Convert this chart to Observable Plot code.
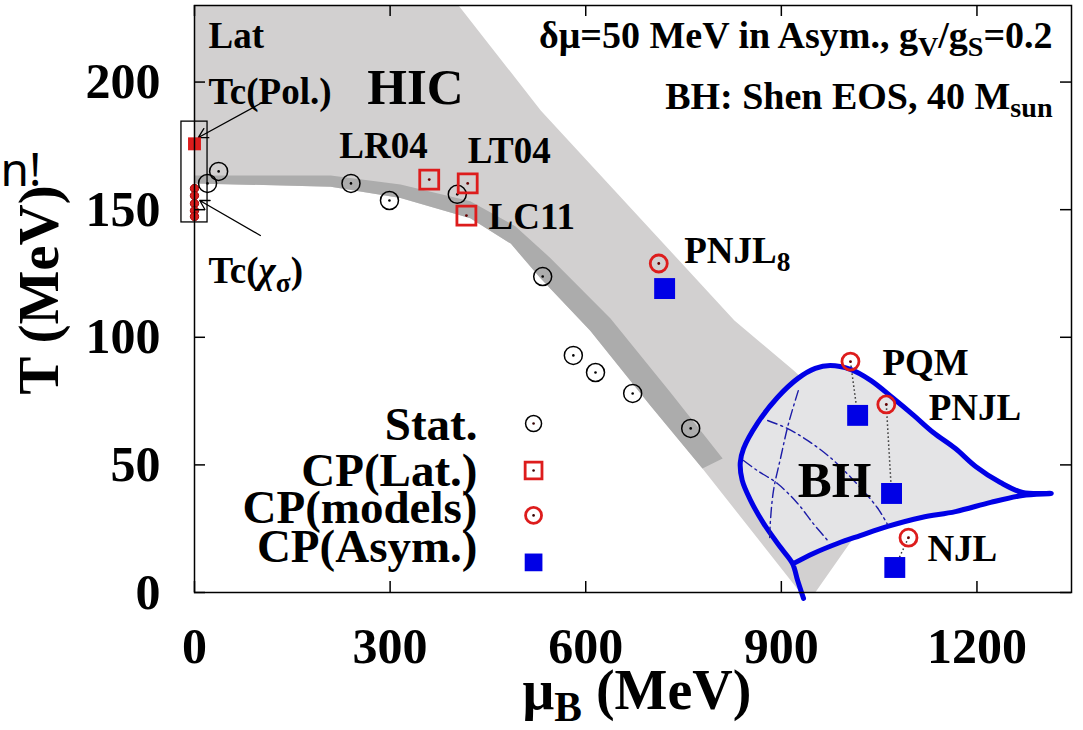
<!DOCTYPE html>
<html>
<head>
<meta charset="utf-8">
<script src="https://cdn.jsdelivr.net/npm/d3@7"></script>
<script src="https://cdn.jsdelivr.net/npm/@observablehq/plot@0.6"></script>
<style>
  html, body { margin: 0; padding: 0; background: #fff; }
  #chart { width: 1083px; height: 730px; }
</style>
</head>
<body>
<div id="chart"></div>
<script>
// ---- Data: QCD phase diagram, T vs baryon chemical potential (MeV) ----

// Axis ticks
const xTicks = [0, 300, 600, 900, 1200];
const yTicks = [0, 50, 100, 150, 200];

// Statistical-model chemical freeze-out points
const statMu = [20, 37, 240, 299, 403, 534, 581, 615, 672, 761];
const statT  = [160.3, 165.0, 160.3, 153.6, 156.0, 123.8, 92.9, 86.2, 78.0, 64.3];

// Lattice critical points
const latNames = ["LR04", "LT04", "LC11"];
const latMu = [360, 419, 417];
const latT  = [161.8, 160.3, 147.7];

// Model critical points, and the same models with isospin asymmetry
const modelNames = ["PNJL_{8}", "PQM", "PNJL", "NJL"];
const modelMu = [712, 1006, 1061, 1095];
const modelT  = [128.9, 90.5, 73.7, 21.5];
const asymMu  = [721, 1017, 1069, 1074];
const asymT   = [119.1, 69.4, 38.8, 9.8];

// Lattice transition temperatures at mu_B = 0
const tcPolT = [175.8];
const tcChiT = [158.3, 155.5, 152.4, 149.6, 147.3];

// Heavy-ion collision region (outline)
const hicMu = [0, 405, 531, 828, 919, 1083, 952, 929, 779, 699, 607, 531, 485, 423, 316, 209, 0];
const hicT  = [230, 230, 188.9, 106.6, 87.0, 47.8, 0, 0, 48.6, 73.3, 102.6, 123.0, 136.7, 146.6, 154.6, 159.0, 160.3];

// Crossover band (upper edge left to right, then lower edge right to left)
const bandMu = [0, 209, 316, 423, 492, 546, 638, 730, 810, 779, 699, 607, 531, 485, 423, 316, 209, 0];
const bandT  = [163.4, 163.4, 159.9, 153.3, 143.5, 131.0, 107.4, 78.4, 52.5, 48.6, 73.3, 102.6, 123.0, 136.7, 146.6, 154.6, 159.0, 160.3];

// Black-hole formation region, Shen EOS, 40 Msun
const bhMu = [934, 925, 917, 899, 873, 853, 840, 837, 842, 863, 894, 925, 952, 975, 1006, 1037, 1072, 1103, 1133, 1167, 1198, 1236, 1270, 1314, 1270, 1221, 1167, 1115, 1063, 1021, 986, 949, 919];
const bhT  = [-2.3, 4.7, 11.4, 17.6, 27.0, 36.0, 43.9, 50.9, 56.4, 66.2, 76.4, 83.8, 87.8, 88.9, 87.4, 83.1, 76.0, 69.4, 62.7, 56.4, 49.4, 43.1, 39.2, 38.8, 38.0, 35.3, 31.7, 29.4, 25.9, 22.3, 19.2, 15.3, 11.4];

// Trajectories inside the black-hole region
const trackA = {mu: [926, 911, 899, 888, 883, 882], t: [79.1, 66.2, 52.9, 40.0, 27.0, 20.4]};
const trackB = {mu: [879, 909, 940, 975, 1011, 1047, 1063], t: [67.4, 64.3, 59.6, 52.9, 43.9, 33.3, 26.6]};
const trackC = {mu: [842, 863, 894, 925, 949, 971], t: [51.7, 47.8, 42.7, 34.9, 27.0, 20.4]};

// Text labels placed in (mu, T)
const labelText = ["Lat", "Tc(Pol.)", "Tc(~{χ}_{σ})", "LR04", "LT04", "LC11", "PNJL_{8}", "PQM", "PNJL", "NJL"];
const labelMu   = [21.5, 21.5, 21.5, 222, 419, 451, 751, 1055, 1126, 1124];
const labelT    = [213.2, 191.6, 121.1, 170.4, 168.1, 142.6, 129.3, 85.4, 67.4, 12.5];
const bigText = ["HIC", "BH"];
const bigMu   = [265, 925];
const bigT    = [191.6, 37.6];

// Header lines
const headerText = ["δμ=50 MeV in Asym., g_{V}/g_{S}=0.2", "BH: Shen EOS, 40 M_{sun}"];
const headerT = [213.5, 189.6];
const headerMu = 1316;

// Legend
const legendText = ["Stat.", "CP(Lat.)", "CP(models)", "CP(Asym.)"];
const legendTextT = [59.6, 41.9, 27.4, 11.8];
const legendSymT  = [66.2, 47.8, 30.2, 11.8];
const legendTextMu = 434;
const legendSymMu = 520;

// ---- Tables ----
const zip = (a, b) => a.map((x, i) => ({x, y: b[i]}));
const stat = zip(statMu, statT);
const lat = zip(latMu, latT);
const model = zip(modelMu, modelT);
const asym = zip(asymMu, asymT);
const links = modelMu.map((m, i) => ({x1: m, y1: modelT[i], x2: asymMu[i], y2: asymT[i]})).slice(1);
const hic = zip(hicMu, hicT);
const band = zip(bandMu, bandT);
const bh = zip(bhMu, bhT);
const tracks = [trackA, trackB, trackC].flatMap((tr, k) => tr.mu.map((m, i) => ({x: m, y: tr.t[i], k})));
const tcPol = tcPolT.map(t => ({x: 0, y: t}));
const tcChi = tcChiT.map(t => ({x: 0, y: t}));
const latBox = [{x1: -20, x2: 20, y1: 145, y2: 184.5}];
const arrows = [
  {x1: 104, y1: 192, x2: 6, y2: 178.3},
  {x1: 101, y1: 139.9, x2: 8, y2: 153.6}
];
const labels = labelText.map((s, i) => ({s, x: labelMu[i], y: labelT[i]}));
const bigs = bigText.map((s, i) => ({s, x: bigMu[i], y: bigT[i]}));
const headers = headerText.map((s, i) => ({s, x: headerMu, y: headerT[i]}));
const legRows = legendText.map((s, i) => ({s, x: legendTextMu, y: legendTextT[i], sx: legendSymMu, sy: legendSymT[i]}));

// ---- Layout ----
const W = 1083, H = 730;
const mTop = 5, mRight = 12, mBottom = 138, mLeft = 194;
const innerW = W - mLeft - mRight, innerH = H - mTop - mBottom;

const serif = "'Liberation Serif', 'Times New Roman', serif";
const RED = "#dd1c1c", BLUE = "#0000e6";
const plain = d => String(d);

const plot = Plot.plot({
  width: W, height: H,
  marginTop: mTop, marginRight: mRight, marginBottom: mBottom, marginLeft: mLeft,
  x: {domain: [0, 1345]},
  y: {domain: [0, 230]},
  style: {fontFamily: serif, fontWeight: "bold", color: "black", background: "white", overflow: "visible"},
  marks: [
    // regions
    Plot.line(hic, {x: "x", y: "y", fill: "#d2d0d0", stroke: "none"}),
    Plot.line(band, {x: "x", y: "y", fill: "#acacac", stroke: "none"}),
    Plot.line(bh, {x: "x", y: "y", fill: "#e4e4e6", stroke: BLUE, strokeWidth: 5, strokeLinejoin: "round", curve: "catmull-rom"}),
    Plot.line(tracks, {x: "x", y: "y", z: "k", stroke: "#1c1ca8", strokeWidth: 1.4, strokeDasharray: "10,4,2,4", curve: "catmull-rom"}),
    Plot.link(links, {x1: "x1", y1: "y1", x2: "x2", y2: "y2", stroke: "#333", strokeWidth: 1.5, strokeDasharray: "1.5,2.5"}),

    // lattice Tc at mu = 0
    Plot.rect(latBox, {x1: "x1", x2: "x2", y1: "y1", y2: "y2", fill: "none", stroke: "black", strokeWidth: 1.3}),
    Plot.arrow(arrows, {x1: "x1", y1: "y1", x2: "x2", y2: "y2", stroke: "black", strokeWidth: 1.3, headLength: 12}),
    Plot.dot(tcChi, {x: "x", y: "y", r: 4.2, fill: RED, stroke: "#a01010", strokeWidth: 1}),
    Plot.dot(tcPol, {x: "x", y: "y", symbol: "square", r: 7.3, fill: RED}),

    // points
    Plot.dot(stat, {x: "x", y: "y", r: 9, stroke: "black", strokeWidth: 1.5}),
    Plot.dot(stat, {x: "x", y: "y", r: 1.3, fill: "black"}),
    Plot.dot(lat, {x: "x", y: "y", symbol: "square", r: 10.7, stroke: RED, strokeWidth: 2.8}),
    Plot.dot(lat, {x: "x", y: "y", r: 1.4, fill: "#600"}),
    Plot.dot(model, {x: "x", y: "y", r: 8.5, stroke: RED, strokeWidth: 2.8}),
    Plot.dot(model, {x: "x", y: "y", r: 1.4, fill: "#600"}),
    Plot.dot(asym, {x: "x", y: "y", symbol: "square", r: 11.8, fill: BLUE}),

    // labels
    Plot.text(labels, {x: "x", y: "y", text: "s", textAnchor: "start", lineAnchor: "bottom", fontSize: 37}),
    Plot.text(bigs, {x: "x", y: "y", text: "s", textAnchor: "start", lineAnchor: "bottom", fontSize: 51}),
    Plot.text(headers, {x: "x", y: "y", text: "s", textAnchor: "end", lineAnchor: "bottom", fontSize: 38}),

    // legend
    Plot.text(legRows, {x: "x", y: "y", text: "s", textAnchor: "end", lineAnchor: "bottom", fontSize: 47}),
    Plot.dot(legRows.slice(0, 1), {x: "sx", y: "sy", r: 8, stroke: "black", strokeWidth: 1.5}),
    Plot.dot(legRows.slice(1, 2), {x: "sx", y: "sy", symbol: "square", r: 9.5, stroke: RED, strokeWidth: 2.8}),
    Plot.dot(legRows.slice(2, 3), {x: "sx", y: "sy", r: 8, stroke: RED, strokeWidth: 2.8}),
    Plot.dot(legRows.slice(0, 3), {x: "sx", y: "sy", r: 1.3, fill: "#300"}),
    Plot.dot(legRows.slice(3, 4), {x: "sx", y: "sy", symbol: "square", r: 10, fill: BLUE}),

    // frame, inward ticks, tick labels
    Plot.frame({stroke: "black", strokeWidth: 1.5}),
    Plot.tickX(xTicks, {x: d => d, insetTop: innerH - 11, stroke: "black", strokeWidth: 1.5}),
    Plot.tickX(xTicks, {x: d => d, insetBottom: innerH - 11, stroke: "black", strokeWidth: 1.5}),
    Plot.tickY(yTicks, {y: d => d, insetRight: innerW - 11, stroke: "black", strokeWidth: 1.5}),
    Plot.tickY(yTicks, {y: d => d, insetLeft: innerW - 11, stroke: "black", strokeWidth: 1.5}),
    Plot.axisX(xTicks, {tickSize: 0, tickPadding: 35, tickFormat: plain, fontSize: 50, fontWeight: "bold", label: null}),
    Plot.axisY(yTicks, {tickSize: 0, tickPadding: 34, tickFormat: plain, fontSize: 50, fontWeight: "bold", label: null}),

    // axis titles
    Plot.text(["μ_{B} (MeV)"], {frameAnchor: "bottom", dx: 4, dy: 116, textAnchor: "middle", lineAnchor: "bottom", fontSize: 56}),
    Plot.text(["T (MeV)"], {frameAnchor: "left", dx: -137, dy: -9, rotate: -90, textAnchor: "middle", lineAnchor: "bottom", fontSize: 57}),

    // slide fragment at the left edge
    Plot.text(["n!"], {frameAnchor: "top-left", dx: -mLeft, dy: 180, textAnchor: "start", lineAnchor: "bottom", fontSize: 46, fontWeight: "normal", fontFamily: "'Noto Sans', 'Open Sans', sans-serif"})
  ]
});

document.getElementById("chart").appendChild(plot);

// Render "_{...}" as subscripts and "~{...}" as italics inside text elements
function richText(svg) {
  svg.querySelectorAll("text").forEach(t => {
    const s = t.textContent;
    if (!/[_~]\{/.test(s) || t.querySelector("tspan")) return;
    const fs = parseFloat(getComputedStyle(t).fontSize);
    t.textContent = "";
    const re = /([_~])\{([^}]*)\}|([^_~]+)/g;
    let m, shift = 0;
    while ((m = re.exec(s))) {
      const ts = document.createElementNS("http://www.w3.org/2000/svg", "tspan");
      if (m[1] === "_") {
        const d = fs * 0.22;
        ts.setAttribute("font-size", fs * 0.74);
        ts.setAttribute("dy", d - shift);
        shift = d;
        ts.textContent = m[2];
      } else {
        if (shift) { ts.setAttribute("dy", -shift); shift = 0; }
        if (m[1] === "~") { ts.setAttribute("font-style", "italic"); ts.textContent = m[2]; }
        else ts.textContent = m[3];
      }
      t.appendChild(ts);
    }
  });
}
richText(plot);
</script>
</body>
</html>
